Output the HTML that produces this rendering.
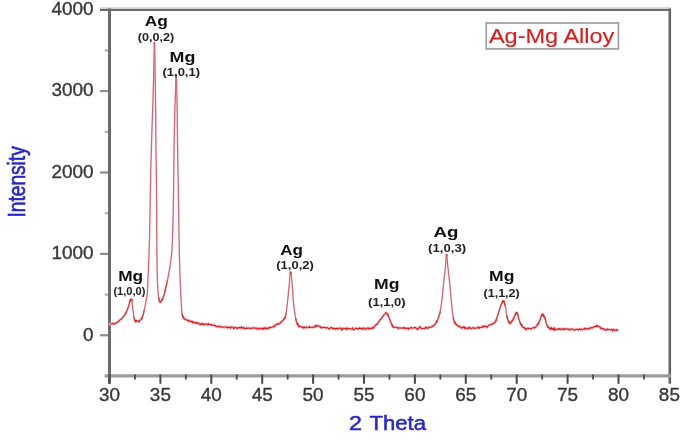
<!DOCTYPE html>
<html><head><meta charset="utf-8"><style>
html,body{margin:0;padding:0;background:#fff;}
body{width:685px;height:443px;overflow:hidden;}
svg{display:block;filter:blur(0.55px);}
text{font-family:"Liberation Sans",sans-serif;}
.tl{font-size:17.6px;fill:#383838;stroke:#383838;stroke-width:0.35px;}
.pn{font-size:13.8px;font-weight:bold;fill:#111;}
.hk{font-size:10.3px;font-weight:bold;fill:#222;}
.lg{font-size:20.2px;fill:#d42020;stroke:#d42020;stroke-width:0.15px;}
.ax{font-size:20.6px;fill:#2828c8;stroke:#2828c8;stroke-width:0.55px;}
.ay{font-size:23px;fill:#2828c8;stroke:#2828c8;stroke-width:0.65px;}
</style></head><body>
<svg width="685" height="443" viewBox="0 0 685 443">
<defs><filter id="fc" x="-5%" y="-5%" width="110%" height="110%"><feGaussianBlur stdDeviation="0.55"/></filter></defs>
<line x1="100" y1="7.6" x2="671" y2="7.6" stroke="#dcdcdc" stroke-width="1.4"/>
<line x1="100" y1="9.8" x2="671" y2="9.8" stroke="#6b6b6b" stroke-width="2.2"/>
<line x1="669.8" y1="8.4" x2="669.8" y2="383.8" stroke="#666" stroke-width="2.6"/>
<line x1="104.6" y1="375.9" x2="671" y2="375.9" stroke="#9c9c9c" stroke-width="3.4"/>
<line x1="109.5" y1="8.4" x2="109.5" y2="383.8" stroke="#6b6b6b" stroke-width="3"/>
<line x1="100.1" y1="335.30" x2="108" y2="335.30" stroke="#8c8c8c" stroke-width="2.2"/>
<line x1="104.7" y1="294.60" x2="108" y2="294.60" stroke="#a8a8a8" stroke-width="2"/>
<line x1="100.1" y1="253.90" x2="108" y2="253.90" stroke="#8c8c8c" stroke-width="2.2"/>
<line x1="104.7" y1="213.20" x2="108" y2="213.20" stroke="#a8a8a8" stroke-width="2"/>
<line x1="100.1" y1="172.50" x2="108" y2="172.50" stroke="#8c8c8c" stroke-width="2.2"/>
<line x1="104.7" y1="131.80" x2="108" y2="131.80" stroke="#a8a8a8" stroke-width="2"/>
<line x1="100.1" y1="91.10" x2="108" y2="91.10" stroke="#8c8c8c" stroke-width="2.2"/>
<line x1="104.7" y1="50.40" x2="108" y2="50.40" stroke="#a8a8a8" stroke-width="2"/>
<line x1="109.50" y1="374.5" x2="109.50" y2="383.8" stroke="#4a4a4a" stroke-width="2"/>
<line x1="134.95" y1="374.5" x2="134.95" y2="379.6" stroke="#4a4a4a" stroke-width="1.8"/>
<line x1="160.40" y1="374.5" x2="160.40" y2="383.8" stroke="#4a4a4a" stroke-width="2"/>
<line x1="185.85" y1="374.5" x2="185.85" y2="379.6" stroke="#4a4a4a" stroke-width="1.8"/>
<line x1="211.30" y1="374.5" x2="211.30" y2="383.8" stroke="#4a4a4a" stroke-width="2"/>
<line x1="236.75" y1="374.5" x2="236.75" y2="379.6" stroke="#4a4a4a" stroke-width="1.8"/>
<line x1="262.20" y1="374.5" x2="262.20" y2="383.8" stroke="#4a4a4a" stroke-width="2"/>
<line x1="287.65" y1="374.5" x2="287.65" y2="379.6" stroke="#4a4a4a" stroke-width="1.8"/>
<line x1="313.10" y1="374.5" x2="313.10" y2="383.8" stroke="#4a4a4a" stroke-width="2"/>
<line x1="338.55" y1="374.5" x2="338.55" y2="379.6" stroke="#4a4a4a" stroke-width="1.8"/>
<line x1="364.00" y1="374.5" x2="364.00" y2="383.8" stroke="#4a4a4a" stroke-width="2"/>
<line x1="389.45" y1="374.5" x2="389.45" y2="379.6" stroke="#4a4a4a" stroke-width="1.8"/>
<line x1="414.90" y1="374.5" x2="414.90" y2="383.8" stroke="#4a4a4a" stroke-width="2"/>
<line x1="440.35" y1="374.5" x2="440.35" y2="379.6" stroke="#4a4a4a" stroke-width="1.8"/>
<line x1="465.80" y1="374.5" x2="465.80" y2="383.8" stroke="#4a4a4a" stroke-width="2"/>
<line x1="491.25" y1="374.5" x2="491.25" y2="379.6" stroke="#4a4a4a" stroke-width="1.8"/>
<line x1="516.70" y1="374.5" x2="516.70" y2="383.8" stroke="#4a4a4a" stroke-width="2"/>
<line x1="542.15" y1="374.5" x2="542.15" y2="379.6" stroke="#4a4a4a" stroke-width="1.8"/>
<line x1="567.60" y1="374.5" x2="567.60" y2="383.8" stroke="#4a4a4a" stroke-width="2"/>
<line x1="593.05" y1="374.5" x2="593.05" y2="379.6" stroke="#4a4a4a" stroke-width="1.8"/>
<line x1="618.50" y1="374.5" x2="618.50" y2="383.8" stroke="#4a4a4a" stroke-width="2"/>
<line x1="643.95" y1="374.5" x2="643.95" y2="379.6" stroke="#4a4a4a" stroke-width="1.8"/>
<text x="93.6" y="14.90" text-anchor="end" class="tl" textLength="42.08" lengthAdjust="spacingAndGlyphs">4000</text>
<text x="93.6" y="96.30" text-anchor="end" class="tl" textLength="42.08" lengthAdjust="spacingAndGlyphs">3000</text>
<text x="93.6" y="177.70" text-anchor="end" class="tl" textLength="42.08" lengthAdjust="spacingAndGlyphs">2000</text>
<text x="93.6" y="259.10" text-anchor="end" class="tl" textLength="42.08" lengthAdjust="spacingAndGlyphs">1000</text>
<text x="93.6" y="340.50" text-anchor="end" class="tl" textLength="10.52" lengthAdjust="spacingAndGlyphs">0</text>
<text x="109.50" y="400.5" text-anchor="middle" class="tl" textLength="21.04" lengthAdjust="spacingAndGlyphs">30</text>
<text x="160.40" y="400.5" text-anchor="middle" class="tl" textLength="21.04" lengthAdjust="spacingAndGlyphs">35</text>
<text x="211.30" y="400.5" text-anchor="middle" class="tl" textLength="21.04" lengthAdjust="spacingAndGlyphs">40</text>
<text x="262.20" y="400.5" text-anchor="middle" class="tl" textLength="21.04" lengthAdjust="spacingAndGlyphs">45</text>
<text x="313.10" y="400.5" text-anchor="middle" class="tl" textLength="21.04" lengthAdjust="spacingAndGlyphs">50</text>
<text x="364.00" y="400.5" text-anchor="middle" class="tl" textLength="21.04" lengthAdjust="spacingAndGlyphs">55</text>
<text x="414.90" y="400.5" text-anchor="middle" class="tl" textLength="21.04" lengthAdjust="spacingAndGlyphs">60</text>
<text x="465.80" y="400.5" text-anchor="middle" class="tl" textLength="21.04" lengthAdjust="spacingAndGlyphs">65</text>
<text x="516.70" y="400.5" text-anchor="middle" class="tl" textLength="21.04" lengthAdjust="spacingAndGlyphs">70</text>
<text x="567.60" y="400.5" text-anchor="middle" class="tl" textLength="21.04" lengthAdjust="spacingAndGlyphs">75</text>
<text x="618.50" y="400.5" text-anchor="middle" class="tl" textLength="21.04" lengthAdjust="spacingAndGlyphs">80</text>
<text x="669.40" y="400.5" text-anchor="middle" class="tl" textLength="21.04" lengthAdjust="spacingAndGlyphs">85</text>
<g filter="url(#fc)">
<path d="M110.00,324.10 110.61,324.24 111.22,323.93 111.82,323.59 112.42,323.77 113.01,323.45 113.59,323.91 114.17,324.40 114.74,323.34 115.31,323.06 115.87,323.30 116.41,322.97 116.94,322.58 117.46,321.85 117.96,321.92 118.46,321.85 118.94,320.76 119.42,320.70 119.88,319.91 120.33,319.72 120.77,319.24 121.20,319.19 121.62,318.60 122.03,318.40 122.44,317.93 122.83,317.44 123.21,316.85 123.57,316.49 123.92,316.03 124.27,315.54 124.61,315.04 124.93,314.54 125.25,314.02 125.56,313.50 125.86,312.97 126.14,312.44" fill="none" stroke="#f0c8cc" stroke-width="2.8" stroke-linejoin="round" stroke-linecap="round"/><path d="M130.28,300.48 130.54,300.00 130.97,299.50 131.40,299.20 131.58,299.36 131.73,299.77 131.84,300.37" fill="none" stroke="#f0c8cc" stroke-width="2.8" stroke-linejoin="round" stroke-linecap="round"/><path d="M135.10,320.83 135.44,320.89 135.82,321.71 136.26,320.81 136.83,320.61 137.48,321.31 138.13,320.94 138.71,321.27 139.23,321.82 139.75,320.40 140.24,320.09 140.70,319.84 141.10,319.40 141.43,318.83 141.71,318.36 141.97,317.92" fill="none" stroke="#f0c8cc" stroke-width="2.8" stroke-linejoin="round" stroke-linecap="round"/><path d="M154.38,43.06 154.40,43.00 154.42,43.03 154.43,43.16" fill="none" stroke="#f0c8cc" stroke-width="2.8" stroke-linejoin="round" stroke-linecap="round"/><path d="M159.80,301.52 160.01,301.83 160.22,301.99 160.44,301.97 160.70,301.78 160.99,301.46 161.31,301.02 161.64,300.48 161.98,299.87 162.32,299.21" fill="none" stroke="#f0c8cc" stroke-width="2.8" stroke-linejoin="round" stroke-linecap="round"/><path d="M176.18,75.53 176.21,75.50 176.23,75.56 176.25,75.71" fill="none" stroke="#f0c8cc" stroke-width="2.8" stroke-linejoin="round" stroke-linecap="round"/><path d="M182.97,316.65 183.28,317.30 183.61,317.71 183.98,318.07 184.36,318.94 184.75,319.06 185.14,319.46 185.59,319.43 186.11,319.67 186.68,319.92 187.28,320.39 187.89,320.86 188.49,320.01 189.06,321.38 189.63,320.75 190.21,320.94 190.79,321.85 191.38,321.65 191.96,321.09 192.55,322.85 193.14,321.66 193.73,322.33 194.31,322.43 194.90,323.16 195.48,322.38 196.07,323.23 196.66,322.51 197.24,323.55 197.83,322.77 198.42,323.09 199.00,324.32 199.59,323.67 200.18,323.68 200.77,324.84 201.36,324.00 201.95,323.50 202.55,324.34 203.14,323.46 203.74,324.66 204.34,324.75 204.94,323.92 205.54,323.94 206.14,324.38 206.74,324.35 207.33,323.91 207.93,324.74 208.53,323.50 209.12,324.38 209.71,324.48 210.30,324.64 210.89,325.05 211.48,324.42 212.06,325.45 212.65,325.21 213.23,325.13 213.82,324.92 214.41,325.14 214.99,326.02 215.58,325.48 216.17,326.09 216.77,326.66 217.36,326.72 217.95,327.05 218.55,326.19 219.15,325.86 219.74,326.97 220.34,326.67 220.94,327.12 221.54,326.62 222.14,327.26 222.74,327.14 223.34,327.12 223.93,327.06 224.53,327.06 225.13,327.02 225.73,327.07 226.33,327.50 226.92,326.80 227.52,327.97 228.12,327.10 228.72,327.69 229.32,327.20 229.92,327.17 230.52,328.35 231.11,327.22 231.71,326.78 232.31,327.11 232.91,327.35 233.51,328.62 234.11,327.68 234.71,328.08 235.31,327.15 235.90,327.86 236.50,328.05 237.10,328.64 237.70,327.42 238.30,328.10 238.90,327.97 239.50,327.33 240.10,327.86 240.70,327.76 241.30,326.75 241.90,328.24 242.50,328.23 243.10,327.76 243.70,327.34 244.30,328.76 244.90,328.18 245.50,328.57 246.10,328.79 246.70,327.84 247.30,328.52 247.90,328.01 248.50,328.12 249.10,328.12 249.70,328.17 250.30,328.74 250.90,328.25 251.50,328.12 252.10,328.06 252.70,328.37 253.30,327.75 253.90,327.95 254.50,328.17 255.10,327.92 255.70,328.14 256.30,327.89 256.91,329.20 257.51,328.86 258.11,328.42 258.72,328.17 259.32,329.30 259.92,328.36 260.52,328.16 261.13,328.35 261.73,328.35 262.33,328.91 262.93,328.19 263.53,329.25 264.13,327.76 264.73,328.55 265.32,327.70 265.92,329.11 266.51,328.03 267.10,328.17 267.69,328.66 268.29,328.80 268.89,327.56 269.49,327.84 270.09,327.20 270.69,327.79 271.28,327.51 271.86,327.20 272.43,326.85 272.98,326.78 273.51,326.42 274.02,326.69 274.50,326.71 274.97,324.98 275.45,325.27 275.93,324.77 276.44,324.85 276.98,323.95 277.56,324.14 278.15,323.54 278.72,324.17 279.26,323.66 279.76,323.26 280.24,323.13 280.71,322.51 281.16,321.62 281.60,321.95 282.02,321.39 282.43,320.83 282.84,320.68 283.26,320.25 283.68,319.31 284.07,318.92 284.43,318.74 284.74,318.17 284.99,317.50" fill="none" stroke="#f0c8cc" stroke-width="2.8" stroke-linejoin="round" stroke-linecap="round"/><path d="M290.47,272.56 290.54,272.44 290.61,272.40 290.68,272.46 290.75,272.61 290.83,272.85" fill="none" stroke="#f0c8cc" stroke-width="2.8" stroke-linejoin="round" stroke-linecap="round"/><path d="M297.53,323.55 297.83,324.73 298.15,324.66 298.54,325.92 299.03,326.91 299.59,325.93 300.17,326.45 300.74,326.49 301.30,326.94 301.88,327.24 302.47,327.70 303.07,326.72 303.67,328.08 304.27,326.90 304.87,327.54 305.47,327.98 306.06,327.74 306.66,326.90 307.26,327.00 307.86,327.09 308.46,327.26 309.07,327.81 309.67,326.55 310.27,327.38 310.87,327.41 311.46,327.33 312.06,327.23 312.65,327.66 313.24,327.02 313.83,327.04 314.42,326.74 315.01,327.18 315.60,325.24 316.18,326.70 316.77,325.88 317.35,325.88 317.92,325.65 318.49,325.42 319.06,326.35 319.62,326.47 320.19,327.26 320.76,326.58 321.33,328.15 321.91,327.72 322.49,327.54 323.08,327.37 323.67,327.40 324.26,327.29 324.85,327.64 325.44,327.98 326.03,327.94 326.63,327.38 327.23,328.00 327.82,327.74 328.42,328.31 329.02,329.21 329.62,328.64 330.23,328.21 330.83,327.59 331.43,327.73 332.03,327.63 332.64,328.87 333.24,328.16 333.85,328.60 334.45,328.28 335.06,328.66 335.66,329.33 336.26,328.31 336.87,328.49 337.47,328.27 338.07,329.12 338.67,328.18 339.28,328.13 339.88,328.01 340.48,328.00 341.07,328.94 341.67,329.98 342.27,328.20 342.87,329.18 343.47,328.83 344.07,328.15 344.67,328.56 345.27,328.58 345.87,328.35 346.47,329.67 347.07,327.75 347.68,328.89 348.28,328.87 348.88,328.41 349.48,328.77 350.08,329.14 350.68,328.78 351.28,328.91 351.88,329.05 352.48,327.68 353.08,329.44 353.68,329.84 354.28,329.19 354.88,329.21 355.48,328.00 356.08,328.64 356.68,328.29 357.28,328.41 357.88,329.18 358.48,328.30 359.08,328.63 359.68,327.75 360.28,328.62 360.88,328.74 361.50,328.34 362.11,328.32 362.74,329.61 363.36,328.04 363.99,328.10 364.62,328.19 365.24,329.16 365.87,329.58 366.49,328.65 367.11,328.09 367.72,328.18 368.33,328.88 368.93,327.84 369.52,328.95 370.10,328.87 370.67,328.13 371.23,328.34 371.78,328.32 372.31,328.63 372.82,327.27 373.32,328.12 373.81,327.14 374.28,326.62 374.75,326.49 375.20,325.91 375.63,325.17 376.06,324.49 376.47,324.30 376.87,324.65 377.26,324.33 377.63,323.44 378.00,323.13 378.37,322.13 378.75,321.79 379.12,321.42 379.48,320.60 379.85,320.17 380.21,319.93 380.57,319.38 380.93,318.80 381.29,318.52 381.65,317.97 382.00,317.59 382.36,317.03 382.73,316.54 383.10,316.08 383.47,315.61 383.84,315.14 384.22,314.67 384.61,314.22 385.02,313.76 385.44,313.21 385.87,312.78 386.30,312.75 386.75,313.16 387.17,313.71 387.50,314.20 387.78,314.72 388.04,315.27" fill="none" stroke="#f0c8cc" stroke-width="2.8" stroke-linejoin="round" stroke-linecap="round"/><path d="M392.08,325.39 392.39,325.51 392.74,326.60 393.11,327.38 393.53,327.27 394.00,327.08 394.54,327.29 395.12,327.41 395.74,327.29 396.39,327.34 397.04,327.23 397.69,328.33 398.32,327.77 398.93,328.28 399.53,327.71 400.13,327.90 400.73,327.80 401.33,328.14 401.93,328.34 402.53,328.06 403.13,327.62 403.73,327.58 404.33,328.82 404.93,327.86 405.53,327.87 406.13,328.76 406.73,328.58 407.33,328.31 407.93,327.86 408.53,329.25 409.13,328.28 409.73,328.37 410.33,328.02 410.93,327.41 411.53,327.46 412.13,328.34 412.73,328.34 413.33,328.03 413.93,327.57 414.53,327.45 415.13,328.01 415.73,327.45 416.33,328.63 416.93,328.77 417.53,329.61 418.13,328.64 418.73,327.90 419.33,327.76 419.93,326.47 420.53,327.90 421.13,328.10 421.73,328.65 422.34,328.45 422.94,328.41 423.54,328.19 424.15,328.37 424.75,328.72 425.35,327.42 425.95,327.67 426.55,327.14 427.14,328.57 427.74,328.35 428.33,328.00 428.91,326.96 429.50,327.55 430.09,327.22 430.67,327.18 431.23,326.83 431.75,326.91 432.27,326.23 432.78,326.43 433.29,325.82 433.78,325.22 434.25,324.88 434.70,324.33 435.13,324.32 435.52,323.51 435.87,323.23 436.19,322.57 436.49,321.81 436.77,321.85 437.04,320.92" fill="none" stroke="#f0c8cc" stroke-width="2.8" stroke-linejoin="round" stroke-linecap="round"/><path d="M446.51,255.14 446.57,255.02 446.63,255.01 446.69,255.12 446.75,255.35" fill="none" stroke="#f0c8cc" stroke-width="2.8" stroke-linejoin="round" stroke-linecap="round"/><path d="M454.76,322.28 455.01,323.07 455.32,323.52 455.69,323.85 456.11,324.58 456.57,324.34 457.04,325.25 457.52,325.79 458.01,326.05 458.53,326.71 459.08,326.01 459.64,326.11 460.21,327.13 460.78,327.39 461.35,328.30 461.93,327.62 462.51,326.95 463.09,327.85 463.68,327.09 464.28,326.82 464.88,328.91 465.48,327.82 466.09,328.06 466.69,328.02 467.30,328.68 467.91,327.95 468.52,328.44 469.13,327.34 469.74,327.18 470.34,328.60 470.95,328.63 471.55,328.15 472.15,328.01 472.75,327.97 473.35,327.53 473.95,328.61 474.55,328.14 475.15,328.02 475.74,327.91 476.34,328.19 476.94,327.87 477.54,327.93 478.14,326.91 478.74,327.68 479.33,328.44 479.93,327.03 480.52,327.16 481.12,327.59 481.71,327.54 482.30,327.28 482.89,326.07 483.48,326.99 484.07,326.05 484.66,326.10 485.25,326.64 485.83,326.10 486.42,326.51 487.01,327.53 487.61,326.25 488.21,326.10 488.80,325.18 489.39,325.16 489.97,324.80 490.53,324.88 491.06,324.43 491.60,324.40 492.15,324.31 492.69,323.65 493.22,323.14 493.73,322.80 494.20,323.09 494.64,322.52 495.02,322.40 495.34,321.92 495.62,321.11 495.88,320.82 496.12,319.99" fill="none" stroke="#f0c8cc" stroke-width="2.8" stroke-linejoin="round" stroke-linecap="round"/><path d="M502.29,302.45 502.58,301.93 502.92,301.33 503.29,300.84 503.62,300.95 503.94,301.54 504.20,302.19" fill="none" stroke="#f0c8cc" stroke-width="2.8" stroke-linejoin="round" stroke-linecap="round"/><path d="M508.56,321.37 508.86,322.20 509.17,322.46 509.49,322.43 509.82,323.01 510.16,323.82 510.54,322.44 510.96,322.74 511.40,322.27 511.84,321.67 512.26,320.50 512.66,320.47 513.01,319.56 513.31,319.01 513.59,318.50 513.84,318.02" fill="none" stroke="#f0c8cc" stroke-width="2.8" stroke-linejoin="round" stroke-linecap="round"/><path d="M515.55,314.10 515.83,313.57 516.17,313.05 516.58,312.54 516.95,312.68 517.27,313.30 517.51,313.88" fill="none" stroke="#f0c8cc" stroke-width="2.8" stroke-linejoin="round" stroke-linecap="round"/><path d="M521.12,324.09 521.43,324.92 521.78,325.58 522.14,326.37 522.53,327.11 522.94,327.31 523.37,327.43 523.81,328.04 524.29,327.67 524.81,328.26 525.38,328.11 525.98,329.87 526.60,329.07 527.23,328.34 527.87,328.33 528.50,328.66 529.11,328.08 529.71,328.52 530.31,328.47 530.93,329.19 531.54,328.43 532.14,328.12 532.73,327.70 533.29,327.61 533.82,327.96 534.33,327.67 534.84,327.94 535.33,326.86 535.81,327.08 536.26,326.34 536.70,325.78 537.10,324.68 537.46,324.46 537.79,324.60 538.10,324.26 538.40,323.44 538.68,323.03" fill="none" stroke="#f0c8cc" stroke-width="2.8" stroke-linejoin="round" stroke-linecap="round"/><path d="M541.62,315.55 541.92,314.98 542.30,314.40 542.67,314.21 543.00,314.61 543.32,315.26 543.64,315.82" fill="none" stroke="#f0c8cc" stroke-width="2.8" stroke-linejoin="round" stroke-linecap="round"/><path d="M543.32,315.26 543.64,315.82 543.97,316.29 544.29,316.88 544.58,317.26 544.82,317.93" fill="none" stroke="#f0c8cc" stroke-width="2.8" stroke-linejoin="round" stroke-linecap="round"/><path d="M547.47,325.90 547.81,326.55 548.19,327.19 548.59,327.44 549.01,327.79 549.45,328.73 549.91,327.85 550.38,328.45 550.91,329.60 551.48,327.55 552.09,328.61 552.72,329.34 553.36,328.21 554.00,330.37 554.63,327.80 555.23,329.82 555.83,329.90 556.43,329.59 557.03,329.03 557.63,329.33 558.23,328.72 558.83,329.58 559.43,328.63 560.03,329.06 560.63,329.70 561.23,328.66 561.83,329.04 562.43,329.31 563.03,328.57 563.63,329.83 564.23,329.42 564.83,328.50 565.43,329.24 566.03,328.88 566.63,328.95 567.23,329.32 567.83,328.93 568.43,329.77 569.03,328.94 569.63,329.78 570.23,329.27 570.83,329.72 571.43,329.03 572.03,329.05 572.63,328.72 573.23,329.59 573.83,329.77 574.44,330.36 575.04,329.94 575.65,329.42 576.25,329.18 576.86,329.48 577.47,329.26 578.08,330.00 578.69,329.73 579.30,328.83 579.91,328.89 580.51,329.91 581.12,329.36 581.73,329.08 582.33,329.77 582.94,328.96 583.54,328.99 584.14,328.88 584.73,328.11 585.33,329.50 585.92,328.43 586.50,328.73 587.09,328.61 587.67,329.31 588.24,328.88 588.81,328.87 589.37,327.93 589.92,328.48 590.47,327.61 591.01,328.11 591.56,327.83 592.10,327.36 592.66,328.05 593.22,327.14 593.79,326.98 594.38,326.56 594.97,326.20 595.57,326.58 596.15,326.50 596.73,325.21 597.29,326.33 597.83,326.11 598.35,326.52 598.86,326.65 599.36,326.38 599.86,326.80 600.37,328.36 600.87,328.08 601.37,327.84 601.87,328.93 602.37,329.02 602.88,328.63 603.40,328.54 603.94,328.92 604.49,329.89 605.04,329.76 605.59,329.69 606.15,329.99 606.71,330.17 607.27,328.85 607.85,329.77 608.42,329.53 609.00,329.35 609.59,329.71 610.18,329.94 610.77,329.89 611.37,329.31 611.98,329.80 612.59,331.06 613.21,329.54 613.83,329.23 614.46,330.22 615.09,330.39 615.74,330.32 616.39,329.54 617.04,330.60 617.70,329.71" fill="none" stroke="#f0c8cc" stroke-width="2.8" stroke-linejoin="round" stroke-linecap="round"/>
<path d="M110.00,324.10 110.61,324.24 111.22,323.93 111.82,323.59 112.42,323.77 113.01,323.45 113.59,323.91 114.17,324.40 114.74,323.34 115.31,323.06 115.87,323.30 116.41,322.97 116.94,322.58 117.46,321.85 117.96,321.92 118.46,321.85 118.94,320.76 119.42,320.70 119.88,319.91 120.33,319.72 120.77,319.24 121.20,319.19 121.62,318.60 122.03,318.40 122.44,317.93 122.83,317.44 123.21,316.85 123.57,316.49 123.92,316.03 124.27,315.54 124.61,315.04 124.93,314.54 125.25,314.02 125.56,313.50 125.86,312.97 126.14,312.44" fill="none" stroke="#d41c24" stroke-width="1.05" stroke-linejoin="round" stroke-linecap="round"/>
<path d="M125.56,313.50 125.86,312.97 126.14,312.44 126.40,311.91 126.65,311.37 126.88,310.82 127.11,310.27 127.32,309.71 127.53,309.15 127.73,308.58 127.92,308.01 128.12,307.44 128.31,306.86 128.50,306.29 128.69,305.72 128.88,305.15 129.06,304.56 129.22,303.96 129.37,303.35 129.52,302.74 129.68,302.14 129.86,301.56 130.05,301.00 130.28,300.48 130.54,300.00 130.97,299.50" fill="none" stroke="#d83838" stroke-width="1.5" stroke-linejoin="round" stroke-linecap="round"/>
<path d="M130.28,300.48 130.54,300.00 130.97,299.50 131.40,299.20 131.58,299.36 131.73,299.77 131.84,300.37" fill="none" stroke="#d41c24" stroke-width="1.05" stroke-linejoin="round" stroke-linecap="round"/>
<path d="M131.58,299.36 131.73,299.77 131.84,300.37 131.94,301.09" fill="none" stroke="#d83838" stroke-width="1.5" stroke-linejoin="round" stroke-linecap="round"/>
<path d="M131.73,299.77 131.84,300.37 131.94,301.09 132.02,301.87 132.10,302.64 132.18,303.33 132.26,303.93 132.35,304.52 132.42,305.12 132.50,305.72 132.57,306.31 132.63,306.91 132.70,307.50 132.76,308.10 132.83,308.70 132.89,309.30 132.96,309.89 133.03,310.49 133.10,311.08 133.17,311.68 133.25,312.27 133.34,312.87 133.42,313.47 133.50,314.07 133.58,314.68 133.67,315.28 133.76,315.88 133.86,316.49 133.96,317.09 134.08,317.66 134.22,318.26 134.37,318.76" fill="none" stroke="#d86472" stroke-width="1.35" stroke-linejoin="round" stroke-linecap="round"/>
<path d="M134.08,317.66 134.22,318.26 134.37,318.76 134.55,319.47 134.80,320.06 135.10,320.83 135.44,320.89 135.82,321.71" fill="none" stroke="#d83838" stroke-width="1.5" stroke-linejoin="round" stroke-linecap="round"/>
<path d="M135.10,320.83 135.44,320.89 135.82,321.71 136.26,320.81 136.83,320.61 137.48,321.31 138.13,320.94 138.71,321.27 139.23,321.82 139.75,320.40 140.24,320.09 140.70,319.84 141.10,319.40 141.43,318.83 141.71,318.36 141.97,317.92" fill="none" stroke="#d41c24" stroke-width="1.05" stroke-linejoin="round" stroke-linecap="round"/>
<path d="M141.43,318.83 141.71,318.36 141.97,317.92 142.22,317.36 142.44,316.76 142.65,316.21 142.85,315.62 143.03,315.02 143.21,314.42 143.37,313.82 143.53,313.23 143.69,312.64 143.84,312.07 143.97,311.49 144.10,310.90 144.23,310.32" fill="none" stroke="#d83838" stroke-width="1.5" stroke-linejoin="round" stroke-linecap="round"/>
<path d="M143.97,311.49 144.10,310.90 144.23,310.32 144.35,309.73 144.46,309.14 144.57,308.54 144.68,307.95 144.79,307.36 144.91,306.77 145.02,306.18 145.14,305.59 145.26,305.00 145.37,304.42 145.49,303.83 145.61,303.24 145.72,302.65 145.83,302.06 145.95,301.47 146.06,300.88 146.17,300.29 146.27,299.70 146.38,299.11 146.49,298.52 146.60,297.93 146.72,297.34 146.83,296.75 146.95,296.16 147.05,295.57 147.14,294.97 147.22,294.38 147.28,293.79 147.33,293.19 147.37,292.59 147.41,292.00 147.45,291.40 147.48,290.80 147.51,290.20 147.54,289.61 147.57,289.01 147.59,288.41 147.62,287.81 147.64,287.21 147.66,286.61 147.68,286.01 147.70,285.40 147.72,284.80 147.74,284.20 147.76,283.60 147.78,283.00 147.81,282.40 147.83,281.80 147.85,281.20 147.87,280.60 147.90,280.00 147.93,279.40 147.95,278.80 147.98,278.20 148.01,277.60 148.04,277.00 148.06,276.40 148.09,275.80 148.12,275.20 148.15,274.61 148.18,274.01 148.20,273.41 148.23,272.81 148.26,272.21 148.29,271.61 148.32,271.01 148.35,270.41 148.38,269.81 148.41,269.21 148.44,268.61 148.46,268.01 148.49,267.41 148.52,266.81 148.55,266.21 148.58,265.61 148.61,265.02 148.64,264.42 148.66,263.82 148.69,263.22 148.72,262.62 148.75,262.02 148.77,261.42 148.80,260.82 148.83,260.22 148.85,259.62 148.88,259.02 148.90,258.42 148.93,257.82 148.95,257.22 148.97,256.62 149.00,256.02 149.02,255.42 149.04,254.82 149.06,254.23 149.09,253.63 149.11,253.03 149.13,252.43 149.15,251.83 149.16,251.23 149.18,250.63 149.20,250.03 149.22,249.43 149.23,248.83 149.25,248.23 149.27,247.63 149.28,247.03 149.30,246.43 149.31,245.83 149.33,245.23 149.34,244.63 149.36,244.03 149.37,243.43 149.39,242.83 149.40,242.23 149.42,241.63 149.43,241.03 149.44,240.43 149.46,239.83 149.47,239.23 149.48,238.63 149.50,238.03 149.51,237.43 149.52,236.83 149.53,236.23 149.55,235.63 149.56,235.03 149.57,234.43 149.58,233.83 149.60,233.23 149.61,232.63 149.62,232.03 149.63,231.43 149.64,230.83 149.65,230.24 149.67,229.64 149.68,229.04 149.69,228.44 149.70,227.84 149.71,227.24 149.72,226.64 149.73,226.04 149.74,225.44 149.75,224.84 149.77,224.24 149.78,223.64 149.79,223.04 149.80,222.44 149.81,221.84 149.82,221.24 149.83,220.64 149.84,220.04 149.85,219.44 149.86,218.84 149.87,218.24 149.88,217.64 149.89,217.04 149.90,216.44 149.91,215.84 149.92,215.24 149.93,214.64 149.94,214.04 149.95,213.44 149.96,212.84 149.97,212.24 149.98,211.64 149.99,211.04 150.01,210.44 150.02,209.84 150.03,209.24 150.04,208.64 150.05,208.04 150.06,207.44 150.07,206.84 150.08,206.24 150.09,205.64 150.10,205.04 150.11,204.44 150.13,203.84 150.14,203.24 150.15,202.64 150.16,202.04 150.17,201.44 150.18,200.84 150.20,200.24 150.21,199.64 150.22,199.04 150.23,198.44 150.24,197.84 150.25,197.24 150.27,196.64 150.28,196.04 150.29,195.44 150.30,194.84 150.31,194.24 150.32,193.64 150.33,193.04 150.35,192.44 150.36,191.84 150.37,191.24 150.38,190.64 150.39,190.04 150.40,189.44 150.41,188.84 150.43,188.24 150.44,187.64 150.45,187.04 150.46,186.44 150.47,185.84 150.48,185.24 150.49,184.64 150.51,184.04 150.52,183.44 150.53,182.84 150.54,182.24 150.55,181.64 150.56,181.04 150.58,180.44 150.59,179.84 150.60,179.24 150.61,178.64 150.62,178.04 150.64,177.44 150.65,176.84 150.66,176.24 150.67,175.64 150.69,175.04 150.70,174.44 150.71,173.84 150.73,173.24 150.74,172.64 150.75,172.04 150.77,171.44 150.78,170.84 150.79,170.24 150.81,169.64 150.82,169.04 150.84,168.44 150.85,167.84 150.87,167.25 150.88,166.65 150.90,166.05 150.91,165.45 150.93,164.85 150.94,164.25 150.96,163.65 150.98,163.05 150.99,162.45 151.01,161.85 151.02,161.25 151.04,160.65 151.06,160.05 151.07,159.45 151.09,158.85 151.11,158.25 151.13,157.65 151.14,157.05 151.16,156.45 151.18,155.85 151.20,155.25 151.21,154.65 151.23,154.05 151.25,153.45 151.27,152.85 151.28,152.25 151.30,151.65 151.32,151.05 151.34,150.45 151.35,149.85 151.37,149.25 151.39,148.65 151.41,148.05 151.43,147.45 151.44,146.85 151.46,146.25 151.48,145.65 151.50,145.05 151.52,144.45 151.53,143.85 151.55,143.25 151.57,142.66 151.59,142.06 151.61,141.46 151.63,140.86 151.64,140.26 151.66,139.66 151.68,139.06 151.70,138.46 151.72,137.86 151.74,137.26 151.76,136.66 151.78,136.06 151.79,135.46 151.81,134.86 151.83,134.26 151.85,133.66 151.87,133.06 151.89,132.46 151.91,131.86 151.93,131.26 151.95,130.66 151.97,130.06 151.99,129.46 152.01,128.86 152.03,128.26 152.05,127.66 152.07,127.06 152.09,126.46 152.11,125.86 152.12,125.26 152.14,124.66 152.16,124.06 152.18,123.46 152.20,122.87 152.22,122.27 152.24,121.67 152.26,121.07 152.28,120.47 152.30,119.87 152.32,119.27 152.35,118.67 152.37,118.07 152.39,117.47 152.41,116.87 152.43,116.27 152.45,115.67 152.47,115.07 152.49,114.47 152.52,113.87 152.54,113.27 152.56,112.67 152.58,112.07 152.60,111.47 152.63,110.87 152.65,110.27 152.67,109.67 152.69,109.07 152.71,108.47 152.73,107.87 152.76,107.27 152.78,106.68 152.80,106.08 152.82,105.48 152.84,104.88 152.86,104.28 152.88,103.68 152.90,103.08 152.92,102.48 152.94,101.88 152.96,101.28 152.98,100.68 153.00,100.08 153.02,99.48 153.03,98.88 153.05,98.28 153.07,97.68 153.09,97.08 153.11,96.48 153.12,95.88 153.14,95.28 153.16,94.68 153.18,94.08 153.19,93.48 153.21,92.88 153.23,92.28 153.25,91.68 153.26,91.08 153.28,90.48 153.30,89.88 153.31,89.28 153.33,88.68 153.35,88.08 153.36,87.48 153.38,86.88 153.39,86.28 153.41,85.68 153.43,85.09 153.44,84.49 153.46,83.89 153.47,83.29 153.49,82.69 153.50,82.09 153.52,81.49 153.53,80.89 153.55,80.29 153.56,79.69 153.57,79.09 153.59,78.49 153.60,77.89 153.62,77.29 153.63,76.69 153.64,76.09 153.66,75.49 153.67,74.89 153.68,74.29 153.69,73.69 153.70,73.09 153.72,72.49 153.73,71.89 153.74,71.29 153.75,70.69 153.76,70.09 153.77,69.49 153.78,68.89 153.79,68.29 153.81,67.69 153.82,67.09 153.83,66.49 153.84,65.89 153.85,65.29 153.86,64.69 153.87,64.09 153.88,63.49 153.90,62.89 153.91,62.29 153.92,61.69 153.93,61.09 153.95,60.49 153.96,59.89 153.97,59.29 153.98,58.69 154.00,58.09 154.01,57.47 154.03,56.82 154.04,56.12 154.05,55.39 154.07,54.64 154.08,53.86 154.10,53.08 154.11,52.28 154.13,51.48 154.15,50.68 154.16,49.90 154.18,49.12 154.19,48.37 154.21,47.64 154.23,46.95 154.24,46.29 154.26,45.67 154.28,45.11 154.29,44.60 154.31,44.15 154.33,43.76 154.34,43.45 154.36,43.21 154.38,43.06 154.40,43.00 154.42,43.03" fill="none" stroke="#d86472" stroke-width="1.35" stroke-linejoin="round" stroke-linecap="round"/>
<path d="M154.38,43.06 154.40,43.00 154.42,43.03 154.43,43.16" fill="none" stroke="#d41c24" stroke-width="1.05" stroke-linejoin="round" stroke-linecap="round"/>
<path d="M154.40,43.00 154.42,43.03 154.43,43.16 154.45,43.36" fill="none" stroke="#d83838" stroke-width="1.5" stroke-linejoin="round" stroke-linecap="round"/>
<path d="M154.42,43.03 154.43,43.16 154.45,43.36 154.47,43.65 154.50,44.01 154.52,44.44 154.54,44.94 154.56,45.48 154.58,46.08 154.61,46.73 154.63,47.41 154.65,48.13 154.67,48.87 154.70,49.64 154.72,50.43 154.74,51.22 154.76,52.02 154.78,52.82 154.80,53.61 154.82,54.39 154.84,55.15 154.85,55.88 154.87,56.59 154.88,57.26 154.90,57.89 154.91,58.49 154.92,59.09 154.93,59.69 154.95,60.29 154.96,60.89 154.97,61.49 154.98,62.09 154.99,62.69 155.00,63.29 155.01,63.89 155.02,64.49 155.03,65.09 155.03,65.69 155.04,66.29 155.05,66.89 155.06,67.49 155.07,68.09 155.08,68.69 155.08,69.29 155.09,69.89 155.10,70.49 155.11,71.09 155.12,71.69 155.12,72.29 155.13,72.89 155.14,73.49 155.15,74.09 155.15,74.69 155.16,75.29 155.17,75.89 155.18,76.49 155.19,77.09 155.20,77.69 155.20,78.29 155.21,78.89 155.22,79.49 155.23,80.09 155.24,80.69 155.25,81.29 155.25,81.89 155.26,82.49 155.27,83.09 155.28,83.69 155.29,84.29 155.30,84.89 155.30,85.49 155.31,86.09 155.32,86.69 155.33,87.29 155.34,87.89 155.34,88.49 155.35,89.09 155.36,89.69 155.37,90.29 155.38,90.89 155.38,91.49 155.39,92.09 155.40,92.69 155.41,93.29 155.42,93.89 155.42,94.49 155.43,95.09 155.44,95.69 155.45,96.29 155.46,96.89 155.46,97.49 155.47,98.09 155.48,98.69 155.49,99.29 155.50,99.89 155.51,100.49 155.52,101.09 155.53,101.69 155.54,102.29 155.54,102.89 155.55,103.49 155.57,104.09 155.58,104.69 155.59,105.29 155.60,105.89 155.61,106.49 155.62,107.09 155.63,107.69 155.64,108.29 155.65,108.89 155.66,109.49 155.67,110.09 155.68,110.69 155.69,111.29 155.70,111.89 155.71,112.49 155.72,113.09 155.73,113.69 155.74,114.29 155.75,114.89 155.75,115.49 155.76,116.09 155.77,116.69 155.78,117.29 155.78,117.89 155.79,118.49 155.79,119.09 155.80,119.69 155.80,120.29 155.81,120.89 155.81,121.49 155.81,122.09 155.82,122.69 155.82,123.29 155.82,123.89 155.82,124.49 155.83,125.09 155.83,125.69 155.83,126.29 155.83,126.89 155.84,127.49 155.84,128.09 155.84,128.69 155.84,129.29 155.84,129.89 155.84,130.49 155.85,131.09 155.85,131.69 155.85,132.29 155.85,132.89 155.85,133.49 155.85,134.09 155.86,134.69 155.86,135.29 155.86,135.89 155.86,136.49 155.86,137.09 155.87,137.69 155.87,138.29 155.87,138.89 155.87,139.49 155.87,140.09 155.88,140.69 155.88,141.29 155.88,141.89 155.89,142.49 155.89,143.09 155.89,143.69 155.90,144.29 155.90,144.89 155.90,145.49 155.91,146.09 155.91,146.69 155.92,147.29 155.93,147.89 155.93,148.49 155.94,149.09 155.95,149.69 155.96,150.29 155.96,150.89 155.97,151.49 155.98,152.09 155.99,152.69 156.00,153.29 156.01,153.89 156.02,154.49 156.04,155.09 156.05,155.69 156.06,156.29 156.07,156.89 156.08,157.49 156.09,158.09 156.10,158.69 156.12,159.29 156.13,159.89 156.14,160.49 156.15,161.09 156.16,161.69 156.17,162.29 156.19,162.89 156.20,163.49 156.21,164.09 156.22,164.69 156.23,165.29 156.24,165.89 156.25,166.49 156.26,167.09 156.27,167.69 156.28,168.29 156.29,168.89 156.29,169.49 156.30,170.09 156.31,170.69 156.32,171.29 156.32,171.88 156.33,172.48 156.34,173.08 156.34,173.68 156.35,174.28 156.36,174.88 156.37,175.48 156.37,176.08 156.38,176.68 156.39,177.28 156.39,177.88 156.40,178.48 156.41,179.08 156.41,179.68 156.42,180.28 156.43,180.88 156.43,181.48 156.44,182.08 156.44,182.68 156.45,183.28 156.46,183.88 156.46,184.48 156.47,185.08 156.47,185.68 156.48,186.28 156.49,186.88 156.49,187.48 156.50,188.08 156.50,188.68 156.51,189.28 156.51,189.88 156.52,190.48 156.53,191.08 156.53,191.68 156.54,192.28 156.54,192.88 156.55,193.48 156.55,194.08 156.56,194.68 156.56,195.28 156.57,195.88 156.57,196.48 156.58,197.08 156.58,197.68 156.59,198.28 156.59,198.88 156.60,199.48 156.60,200.08 156.61,200.68 156.61,201.28 156.61,201.88 156.62,202.48 156.62,203.08 156.63,203.68 156.63,204.28 156.63,204.88 156.64,205.48 156.64,206.08 156.65,206.68 156.65,207.28 156.65,207.88 156.66,208.48 156.66,209.08 156.66,209.68 156.67,210.28 156.67,210.88 156.67,211.48 156.68,212.08 156.68,212.68 156.68,213.28 156.69,213.88 156.69,214.48 156.69,215.08 156.70,215.68 156.70,216.28 156.70,216.88 156.70,217.48 156.71,218.08 156.71,218.68 156.71,219.28 156.72,219.88 156.72,220.48 156.72,221.08 156.72,221.68 156.73,222.28 156.73,222.88 156.73,223.48 156.74,224.08 156.74,224.68 156.74,225.28 156.74,225.88 156.75,226.48 156.75,227.08 156.75,227.68 156.76,228.28 156.76,228.88 156.76,229.48 156.77,230.08 156.77,230.68 156.77,231.28 156.77,231.88 156.78,232.48 156.78,233.08 156.78,233.68 156.79,234.28 156.79,234.88 156.79,235.48 156.80,236.08 156.80,236.68 156.81,237.28 156.81,237.88 156.81,238.48 156.82,239.08 156.82,239.68 156.82,240.28 156.83,240.88 156.83,241.48 156.84,242.08 156.84,242.68 156.84,243.28 156.85,243.88 156.85,244.48 156.86,245.08 156.86,245.68 156.87,246.28 156.87,246.88 156.88,247.48 156.88,248.08 156.89,248.68 156.89,249.28 156.90,249.88 156.90,250.48 156.91,251.08 156.92,251.68 156.92,252.28 156.93,252.88 156.93,253.48 156.94,254.08 156.95,254.68 156.95,255.28 156.96,255.88 156.97,256.48 156.97,257.08 156.98,257.68 156.99,258.28 156.99,258.88 157.00,259.48 157.01,260.08 157.02,260.68 157.03,261.28 157.03,261.88 157.04,262.48 157.05,263.08 157.06,263.68 157.07,264.28 157.08,264.88 157.09,265.48 157.10,266.08 157.11,266.68 157.12,267.28 157.13,267.88 157.14,268.48 157.15,269.08 157.16,269.68 157.17,270.28 157.18,270.88 157.20,271.48 157.21,272.08 157.22,272.68 157.23,273.28 157.25,273.88 157.26,274.48 157.27,275.08 157.29,275.68 157.30,276.28 157.32,276.88 157.33,277.48 157.35,278.08 157.36,278.68 157.38,279.28 157.40,279.88 157.41,280.48 157.43,281.08 157.45,281.68 157.47,282.28 157.49,282.88 157.51,283.49 157.54,284.09 157.56,284.69 157.59,285.30 157.62,285.90 157.65,286.50 157.68,287.10 157.71,287.71 157.75,288.31 157.78,288.91 157.82,289.51 157.87,290.11 157.91,290.71 157.96,291.30 158.00,291.90 158.05,292.49 158.11,293.09 158.16,293.68 158.22,294.27 158.28,294.85 158.36,295.47 158.45,296.15 158.56,296.88 158.70,297.64 158.85,298.41 159.02,299.16 159.20,299.87" fill="none" stroke="#d86472" stroke-width="1.35" stroke-linejoin="round" stroke-linecap="round"/>
<path d="M158.85,298.41 159.02,299.16 159.20,299.87 159.39,300.51 159.59,301.07 159.80,301.52 160.01,301.83 160.22,301.99" fill="none" stroke="#d83838" stroke-width="1.5" stroke-linejoin="round" stroke-linecap="round"/>
<path d="M159.80,301.52 160.01,301.83 160.22,301.99 160.44,301.97 160.70,301.78 160.99,301.46 161.31,301.02 161.64,300.48 161.98,299.87 162.32,299.21" fill="none" stroke="#d41c24" stroke-width="1.05" stroke-linejoin="round" stroke-linecap="round"/>
<path d="M161.64,300.48 161.98,299.87 162.32,299.21 162.65,298.52 162.97,297.83 163.26,297.15 163.51,296.51 163.72,295.93 163.91,295.37 164.08,294.81 164.23,294.23 164.38,293.65 164.52,293.06 164.65,292.47 164.78,291.88 164.91,291.28" fill="none" stroke="#d83838" stroke-width="1.5" stroke-linejoin="round" stroke-linecap="round"/>
<path d="M164.65,292.47 164.78,291.88 164.91,291.28 165.04,290.69 165.17,290.11" fill="none" stroke="#d86472" stroke-width="1.35" stroke-linejoin="round" stroke-linecap="round"/>
<path d="M164.91,291.28 165.04,290.69 165.17,290.11 165.31,289.52 165.45,288.94 165.59,288.36 165.73,287.77 165.87,287.19 166.01,286.60 166.15,286.02 166.29,285.43 166.43,284.85 166.56,284.26 166.70,283.68 166.84,283.09 166.97,282.51 167.10,281.92 167.23,281.34 167.36,280.75 167.49,280.16" fill="none" stroke="#d83838" stroke-width="1.5" stroke-linejoin="round" stroke-linecap="round"/>
<path d="M167.23,281.34 167.36,280.75 167.49,280.16 167.62,279.58 167.74,278.99 167.86,278.40 167.98,277.82 168.09,277.23 168.21,276.64 168.31,276.05 168.42,275.46 168.52,274.87 168.62,274.28 168.73,273.69 168.83,273.10 168.93,272.51 169.03,271.92 169.13,271.33 169.24,270.73 169.34,270.14 169.44,269.55 169.54,268.96 169.64,268.36 169.74,267.77 169.84,267.18 169.93,266.58 170.03,265.99 170.13,265.39 170.22,264.80 170.31,264.21 170.40,263.61 170.49,263.02 170.58,262.42 170.67,261.83 170.76,261.23 170.84,260.63 170.92,260.04 171.00,259.44 171.08,258.85 171.15,258.25 171.22,257.66 171.29,257.06 171.36,256.46 171.43,255.87 171.49,255.27 171.55,254.67 171.60,254.08 171.66,253.48 171.71,252.88 171.75,252.29 171.80,251.69 171.84,251.09 171.87,250.50 171.91,249.90 171.94,249.30 171.97,248.70 172.00,248.11 172.03,247.51 172.06,246.91 172.09,246.32 172.11,245.72 172.14,245.12 172.17,244.52 172.20,243.92 172.22,243.33 172.25,242.73 172.28,242.13 172.30,241.53 172.33,240.93 172.35,240.33 172.38,239.73 172.40,239.14 172.42,238.54 172.45,237.94 172.47,237.34 172.49,236.74 172.51,236.14 172.54,235.54 172.56,234.94 172.58,234.34 172.60,233.74 172.62,233.14 172.64,232.54 172.66,231.94 172.68,231.34 172.70,230.74 172.71,230.14 172.73,229.54 172.75,228.94 172.77,228.34 172.79,227.74 172.80,227.14 172.82,226.54 172.84,225.94 172.85,225.34 172.87,224.74 172.89,224.14 172.90,223.54 172.92,222.94 172.93,222.34 172.95,221.74 172.96,221.14 172.98,220.54 172.99,219.94 173.01,219.34 173.02,218.73 173.04,218.13 173.05,217.53 173.06,216.93 173.08,216.33 173.09,215.73 173.10,215.13 173.12,214.53 173.13,213.93 173.14,213.33 173.15,212.73 173.17,212.13 173.18,211.53 173.19,210.93 173.20,210.33 173.21,209.72 173.23,209.12 173.24,208.52 173.25,207.92 173.26,207.32 173.27,206.72 173.28,206.12 173.30,205.52 173.31,204.92 173.32,204.32 173.33,203.72 173.34,203.12 173.35,202.52 173.36,201.92 173.38,201.32 173.39,200.72 173.40,200.12 173.41,199.52 173.42,198.92 173.43,198.32 173.44,197.72 173.45,197.12 173.46,196.52 173.47,195.92 173.48,195.32 173.49,194.72 173.50,194.12 173.51,193.52 173.52,192.92 173.53,192.32 173.54,191.72 173.55,191.12 173.56,190.52 173.57,189.92 173.58,189.32 173.58,188.72 173.59,188.12 173.60,187.52 173.61,186.92 173.62,186.32 173.63,185.72 173.63,185.12 173.64,184.52 173.65,183.92 173.66,183.32 173.66,182.72 173.67,182.12 173.68,181.52 173.69,180.92 173.69,180.32 173.70,179.72 173.71,179.12 173.72,178.52 173.72,177.92 173.73,177.32 173.74,176.72 173.74,176.12 173.75,175.52 173.76,174.92 173.76,174.32 173.77,173.72 173.78,173.12 173.79,172.52 173.79,171.92 173.80,171.32 173.81,170.72 173.81,170.12 173.82,169.52 173.83,168.92 173.83,168.32 173.84,167.72 173.85,167.12 173.85,166.52 173.86,165.92 173.87,165.32 173.87,164.72 173.88,164.12 173.89,163.52 173.89,162.92 173.90,162.32 173.91,161.72 173.91,161.12 173.92,160.52 173.93,159.92 173.93,159.32 173.94,158.72 173.95,158.12 173.95,157.52 173.96,156.92 173.97,156.32 173.98,155.72 173.98,155.12 173.99,154.52 174.00,153.92 174.01,153.32 174.01,152.72 174.02,152.12 174.03,151.52 174.04,150.92 174.04,150.33 174.05,149.73 174.06,149.13 174.07,148.53 174.08,147.93 174.09,147.33 174.09,146.73 174.10,146.13 174.11,145.53 174.12,144.93 174.13,144.33 174.14,143.73 174.15,143.13 174.16,142.53 174.17,141.93 174.18,141.33 174.19,140.73 174.20,140.13 174.21,139.53 174.22,138.93 174.23,138.33 174.24,137.73 174.25,137.13 174.26,136.53 174.27,135.93 174.28,135.33 174.29,134.73 174.30,134.13 174.32,133.53 174.33,132.93 174.34,132.33 174.35,131.73 174.36,131.13 174.37,130.53 174.38,129.93 174.40,129.33 174.41,128.73 174.42,128.13 174.43,127.53 174.45,126.93 174.46,126.33 174.47,125.73 174.48,125.13 174.50,124.53 174.51,123.93 174.52,123.33 174.54,122.73 174.55,122.13 174.56,121.53 174.58,120.93 174.59,120.33 174.61,119.73 174.62,119.13 174.63,118.53 174.65,117.93 174.66,117.33 174.68,116.73 174.69,116.13 174.71,115.53 174.72,114.93 174.74,114.33 174.75,113.73 174.77,113.13 174.79,112.53 174.80,111.93 174.82,111.33 174.84,110.73 174.85,110.13 174.87,109.53 174.89,108.93 174.91,108.33 174.93,107.73 174.94,107.14 174.96,106.54 174.98,105.94 175.00,105.34 175.02,104.74 175.05,104.14 175.07,103.54 175.09,102.94 175.11,102.34 175.13,101.74 175.15,101.14 175.17,100.54 175.20,99.94 175.22,99.34 175.24,98.74 175.26,98.14 175.29,97.54 175.31,96.94 175.33,96.34 175.36,95.74 175.38,95.14 175.40,94.54 175.43,93.94 175.45,93.34 175.47,92.74 175.49,92.14 175.52,91.53 175.54,90.88 175.57,90.20 175.59,89.48 175.61,88.74 175.64,87.98 175.67,87.20 175.69,86.41 175.72,85.61 175.74,84.81 175.77,84.01 175.80,83.23 175.82,82.45 175.85,81.69 175.87,80.95 175.90,80.24 175.93,79.56 175.95,78.92 175.98,78.31 176.01,77.76 176.03,77.25 176.06,76.80 176.08,76.40 176.11,76.08 176.13,75.82 176.16,75.63 176.18,75.53 176.21,75.50" fill="none" stroke="#d86472" stroke-width="1.35" stroke-linejoin="round" stroke-linecap="round"/>
<path d="M176.16,75.63 176.18,75.53 176.21,75.50 176.23,75.56" fill="none" stroke="#d83838" stroke-width="1.5" stroke-linejoin="round" stroke-linecap="round"/>
<path d="M176.18,75.53 176.21,75.50 176.23,75.56 176.25,75.71" fill="none" stroke="#d41c24" stroke-width="1.05" stroke-linejoin="round" stroke-linecap="round"/>
<path d="M176.21,75.50 176.23,75.56 176.25,75.71 176.28,75.93" fill="none" stroke="#d83838" stroke-width="1.5" stroke-linejoin="round" stroke-linecap="round"/>
<path d="M176.23,75.56 176.25,75.71 176.28,75.93 176.30,76.22 176.32,76.58 176.35,77.00 176.37,77.48 176.40,78.01 176.42,78.59 176.44,79.22 176.47,79.88 176.49,80.57 176.51,81.30 176.54,82.05 176.56,82.81 176.58,83.60 176.60,84.39 176.63,85.19 176.65,85.99 176.67,86.78 176.69,87.57 176.71,88.34 176.73,89.09 176.74,89.82 176.76,90.53 176.78,91.20 176.80,91.83 176.81,92.43 176.83,93.03 176.84,93.63 176.86,94.23 176.87,94.83 176.89,95.43 176.90,96.03 176.91,96.63 176.93,97.23 176.94,97.83 176.95,98.43 176.97,99.03 176.98,99.63 176.99,100.23 177.01,100.83 177.02,101.43 177.03,102.03 177.04,102.63 177.05,103.23 177.07,103.83 177.08,104.43 177.09,105.03 177.10,105.63 177.11,106.23 177.12,106.83 177.13,107.43 177.14,108.03 177.15,108.63 177.16,109.23 177.17,109.83 177.18,110.43 177.19,111.03 177.19,111.63 177.20,112.23 177.21,112.83 177.22,113.43 177.23,114.03 177.24,114.63 177.24,115.22 177.25,115.82 177.26,116.42 177.26,117.02 177.27,117.62 177.28,118.22 177.28,118.82 177.29,119.42 177.30,120.02 177.30,120.62 177.31,121.22 177.32,121.82 177.32,122.42 177.33,123.02 177.33,123.62 177.34,124.22 177.34,124.82 177.35,125.42 177.36,126.02 177.36,126.62 177.37,127.22 177.37,127.82 177.38,128.42 177.38,129.02 177.39,129.62 177.39,130.22 177.40,130.82 177.41,131.42 177.41,132.02 177.42,132.62 177.42,133.22 177.43,133.82 177.44,134.42 177.44,135.02 177.45,135.62 177.46,136.22 177.46,136.82 177.47,137.42 177.48,138.02 177.48,138.62 177.49,139.22 177.50,139.82 177.51,140.42 177.51,141.02 177.52,141.62 177.53,142.22 177.54,142.82 177.55,143.42 177.55,144.02 177.56,144.62 177.57,145.22 177.58,145.82 177.59,146.42 177.60,147.02 177.60,147.62 177.61,148.22 177.62,148.82 177.63,149.42 177.64,150.02 177.65,150.62 177.66,151.22 177.67,151.82 177.68,152.42 177.69,153.02 177.70,153.62 177.71,154.22 177.71,154.82 177.72,155.42 177.73,156.02 177.74,156.62 177.75,157.22 177.76,157.82 177.77,158.42 177.78,159.02 177.79,159.62 177.80,160.22 177.81,160.82 177.82,161.42 177.83,162.02 177.84,162.62 177.85,163.22 177.86,163.82 177.88,164.42 177.89,165.02 177.90,165.62 177.91,166.22 177.92,166.82 177.93,167.42 177.94,168.02 177.95,168.62 177.96,169.22 177.97,169.82 177.98,170.42 177.99,171.02 178.00,171.62 178.01,172.22 178.02,172.82 178.03,173.42 178.04,174.02 178.06,174.62 178.07,175.22 178.08,175.82 178.09,176.42 178.10,177.02 178.11,177.62 178.12,178.22 178.13,178.82 178.14,179.42 178.15,180.02 178.16,180.62 178.17,181.22 178.18,181.82 178.20,182.42 178.21,183.02 178.22,183.62 178.23,184.22 178.24,184.82 178.25,185.42 178.26,186.02 178.27,186.62 178.28,187.22 178.29,187.82 178.30,188.42 178.31,189.02 178.32,189.62 178.33,190.22 178.34,190.82 178.35,191.42 178.37,192.02 178.38,192.62 178.39,193.22 178.40,193.82 178.41,194.42 178.42,195.02 178.43,195.62 178.44,196.22 178.45,196.82 178.46,197.42 178.47,198.02 178.48,198.62 178.49,199.22 178.50,199.82 178.51,200.42 178.52,201.02 178.53,201.62 178.54,202.22 178.55,202.82 178.55,203.41 178.56,204.01 178.57,204.61 178.58,205.21 178.59,205.81 178.60,206.41 178.61,207.01 178.62,207.61 178.63,208.21 178.64,208.81 178.65,209.41 178.65,210.01 178.66,210.61 178.67,211.21 178.68,211.81 178.69,212.41 178.70,213.01 178.71,213.61 178.72,214.21 178.72,214.81 178.73,215.41 178.74,216.01 178.75,216.61 178.76,217.21 178.77,217.81 178.78,218.41 178.78,219.01 178.79,219.61 178.80,220.21 178.81,220.81 178.82,221.41 178.83,222.01 178.84,222.61 178.84,223.21 178.85,223.81 178.86,224.41 178.87,225.01 178.88,225.61 178.89,226.21 178.90,226.81 178.91,227.41 178.92,228.01 178.92,228.61 178.93,229.21 178.94,229.81 178.95,230.41 178.96,231.01 178.97,231.61 178.98,232.21 178.99,232.81 179.00,233.41 179.01,234.01 179.02,234.61 179.03,235.21 179.04,235.81 179.05,236.41 179.06,237.01 179.07,237.61 179.08,238.21 179.09,238.81 179.10,239.41 179.11,240.01 179.12,240.61 179.13,241.21 179.14,241.81 179.15,242.41 179.16,243.01 179.17,243.61 179.18,244.21 179.20,244.81 179.21,245.41 179.22,246.01 179.23,246.61 179.24,247.21 179.25,247.81 179.27,248.41 179.28,249.01 179.29,249.61 179.30,250.21 179.32,250.81 179.33,251.41 179.34,252.01 179.36,252.61 179.37,253.21 179.38,253.81 179.40,254.41 179.41,255.01 179.43,255.61 179.44,256.21 179.46,256.81 179.47,257.41 179.49,258.01 179.50,258.61 179.52,259.21 179.54,259.81 179.55,260.41 179.57,261.01 179.59,261.61 179.60,262.21 179.62,262.81 179.64,263.40 179.65,264.00 179.67,264.60 179.69,265.20 179.71,265.80 179.73,266.40 179.74,267.00 179.76,267.60 179.78,268.20 179.80,268.80 179.82,269.40 179.84,270.00 179.86,270.60 179.88,271.20 179.89,271.80 179.91,272.40 179.93,273.00 179.95,273.60 179.97,274.20 179.99,274.80 180.01,275.40 180.03,276.00 180.05,276.60 180.08,277.20 180.10,277.80 180.12,278.40 180.14,279.00 180.16,279.60 180.19,280.20 180.21,280.80 180.23,281.39 180.26,281.99 180.28,282.59 180.31,283.19 180.33,283.79 180.36,284.39 180.38,284.99 180.41,285.59 180.43,286.19 180.46,286.79 180.48,287.39 180.51,287.99 180.54,288.59 180.56,289.19 180.59,289.79 180.62,290.39 180.64,290.99 180.67,291.59 180.70,292.19 180.73,292.78 180.75,293.38 180.78,293.98 180.81,294.58 180.84,295.18 180.87,295.78 180.90,296.38 180.93,296.98 180.96,297.58 181.00,298.18 181.03,298.78 181.06,299.38 181.10,299.97 181.13,300.58 181.17,301.18 181.20,301.79 181.23,302.39 181.26,303.01 181.29,303.62 181.32,304.23 181.35,304.84 181.39,305.46 181.42,306.07 181.45,306.68 181.49,307.29 181.53,307.90 181.57,308.51 181.61,309.11 181.66,309.71 181.71,310.31 181.76,310.90 181.82,311.49 181.89,312.07 181.95,312.65 182.03,313.22 182.11,313.78 182.19,314.34 182.30,314.90 182.48,315.49" fill="none" stroke="#d86472" stroke-width="1.35" stroke-linejoin="round" stroke-linecap="round"/>
<path d="M182.19,314.34 182.30,314.90 182.48,315.49 182.70,316.08 182.97,316.65 183.28,317.30 183.61,317.71" fill="none" stroke="#d83838" stroke-width="1.5" stroke-linejoin="round" stroke-linecap="round"/>
<path d="M182.97,316.65 183.28,317.30 183.61,317.71 183.98,318.07 184.36,318.94 184.75,319.06 185.14,319.46 185.59,319.43 186.11,319.67 186.68,319.92 187.28,320.39 187.89,320.86 188.49,320.01 189.06,321.38 189.63,320.75 190.21,320.94 190.79,321.85 191.38,321.65 191.96,321.09 192.55,322.85 193.14,321.66 193.73,322.33 194.31,322.43 194.90,323.16 195.48,322.38 196.07,323.23 196.66,322.51 197.24,323.55 197.83,322.77 198.42,323.09 199.00,324.32 199.59,323.67 200.18,323.68 200.77,324.84 201.36,324.00 201.95,323.50 202.55,324.34 203.14,323.46 203.74,324.66 204.34,324.75 204.94,323.92 205.54,323.94 206.14,324.38 206.74,324.35 207.33,323.91 207.93,324.74 208.53,323.50 209.12,324.38 209.71,324.48 210.30,324.64 210.89,325.05 211.48,324.42 212.06,325.45 212.65,325.21 213.23,325.13 213.82,324.92 214.41,325.14 214.99,326.02 215.58,325.48 216.17,326.09 216.77,326.66 217.36,326.72 217.95,327.05 218.55,326.19 219.15,325.86 219.74,326.97 220.34,326.67 220.94,327.12 221.54,326.62 222.14,327.26 222.74,327.14 223.34,327.12 223.93,327.06 224.53,327.06 225.13,327.02 225.73,327.07 226.33,327.50 226.92,326.80 227.52,327.97 228.12,327.10 228.72,327.69 229.32,327.20 229.92,327.17 230.52,328.35 231.11,327.22 231.71,326.78 232.31,327.11 232.91,327.35 233.51,328.62 234.11,327.68 234.71,328.08 235.31,327.15 235.90,327.86 236.50,328.05 237.10,328.64 237.70,327.42 238.30,328.10 238.90,327.97 239.50,327.33 240.10,327.86 240.70,327.76 241.30,326.75 241.90,328.24 242.50,328.23 243.10,327.76 243.70,327.34 244.30,328.76 244.90,328.18 245.50,328.57 246.10,328.79 246.70,327.84 247.30,328.52 247.90,328.01 248.50,328.12 249.10,328.12 249.70,328.17 250.30,328.74 250.90,328.25 251.50,328.12 252.10,328.06 252.70,328.37 253.30,327.75 253.90,327.95 254.50,328.17 255.10,327.92 255.70,328.14 256.30,327.89 256.91,329.20 257.51,328.86 258.11,328.42 258.72,328.17 259.32,329.30 259.92,328.36 260.52,328.16 261.13,328.35 261.73,328.35 262.33,328.91 262.93,328.19 263.53,329.25 264.13,327.76 264.73,328.55 265.32,327.70 265.92,329.11 266.51,328.03 267.10,328.17 267.69,328.66 268.29,328.80 268.89,327.56 269.49,327.84 270.09,327.20 270.69,327.79 271.28,327.51 271.86,327.20 272.43,326.85 272.98,326.78 273.51,326.42 274.02,326.69 274.50,326.71 274.97,324.98 275.45,325.27 275.93,324.77 276.44,324.85 276.98,323.95 277.56,324.14 278.15,323.54 278.72,324.17 279.26,323.66 279.76,323.26 280.24,323.13 280.71,322.51 281.16,321.62 281.60,321.95 282.02,321.39 282.43,320.83 282.84,320.68 283.26,320.25 283.68,319.31 284.07,318.92 284.43,318.74 284.74,318.17 284.99,317.50" fill="none" stroke="#d41c24" stroke-width="1.05" stroke-linejoin="round" stroke-linecap="round"/>
<path d="M284.43,318.74 284.74,318.17 284.99,317.50 285.18,316.96 285.36,316.43 285.52,315.85 285.66,315.25 285.78,314.65 285.90,314.05" fill="none" stroke="#d83838" stroke-width="1.5" stroke-linejoin="round" stroke-linecap="round"/>
<path d="M285.66,315.25 285.78,314.65 285.90,314.05 286.01,313.46 286.11,312.87 286.21,312.28 286.30,311.69 286.39,311.10 286.48,310.51 286.56,309.91 286.64,309.32 286.71,308.72 286.79,308.13 286.86,307.53 286.93,306.93 287.00,306.34 287.06,305.74 287.13,305.14 287.20,304.54 287.26,303.94 287.33,303.35 287.39,302.75 287.46,302.15 287.53,301.56 287.59,300.96 287.66,300.37 287.72,299.77 287.79,299.17 287.85,298.58 287.91,297.98 287.97,297.38 288.03,296.78 288.09,296.19 288.15,295.59 288.21,294.99 288.27,294.40 288.32,293.80 288.38,293.20 288.44,292.60 288.50,292.01 288.56,291.41 288.61,290.81 288.67,290.22 288.73,289.62 288.79,289.02 288.85,288.42 288.91,287.83 288.98,287.23 289.04,286.62 289.10,285.98 289.16,285.29 289.23,284.57 289.29,283.83 289.35,283.06 289.42,282.28 289.48,281.48 289.55,280.69 289.61,279.90 289.68,279.11 289.74,278.35 289.81,277.60 289.87,276.88 289.94,276.19 290.00,275.54 290.07,274.93 290.13,274.37 290.20,273.88 290.27,273.44 290.34,273.07 290.40,272.78 290.47,272.56" fill="none" stroke="#d86472" stroke-width="1.35" stroke-linejoin="round" stroke-linecap="round"/>
<path d="M290.34,273.07 290.40,272.78 290.47,272.56 290.54,272.44 290.61,272.40" fill="none" stroke="#d83838" stroke-width="1.5" stroke-linejoin="round" stroke-linecap="round"/>
<path d="M290.47,272.56 290.54,272.44 290.61,272.40 290.68,272.46 290.75,272.61 290.83,272.85" fill="none" stroke="#d41c24" stroke-width="1.05" stroke-linejoin="round" stroke-linecap="round"/>
<path d="M290.68,272.46 290.75,272.61 290.83,272.85 290.90,273.16 290.98,273.55" fill="none" stroke="#d83838" stroke-width="1.5" stroke-linejoin="round" stroke-linecap="round"/>
<path d="M290.83,272.85 290.90,273.16 290.98,273.55 291.06,274.00 291.14,274.51 291.22,275.08 291.30,275.69 291.38,276.35 291.46,277.05 291.54,277.78 291.62,278.53 291.70,279.30 291.78,280.09 291.85,280.88 291.93,281.67 292.00,282.46 292.07,283.24 292.14,284.00 292.20,284.74 292.27,285.45 292.32,286.13 292.38,286.77 292.43,287.37 292.48,287.97 292.53,288.56 292.57,289.16 292.61,289.76 292.65,290.36 292.69,290.96 292.73,291.56 292.77,292.16 292.80,292.76 292.84,293.36 292.87,293.95 292.90,294.55 292.94,295.15 292.97,295.75 293.01,296.35 293.05,296.95 293.08,297.55 293.12,298.15 293.16,298.75 293.20,299.35 293.25,299.94 293.29,300.54 293.34,301.14 293.39,301.74 293.45,302.33 293.51,302.93 293.57,303.53 293.63,304.12 293.70,304.72 293.76,305.32 293.84,305.91 293.91,306.51 293.98,307.10 294.06,307.70 294.14,308.30 294.22,308.89 294.30,309.49 294.39,310.08 294.47,310.67 294.56,311.27 294.65,311.86 294.74,312.45 294.83,313.05 294.92,313.64 295.01,314.23 295.10,314.83 295.20,315.43 295.29,316.02 295.39,316.62 295.49,317.22 295.60,317.83 295.71,318.41 295.84,319.04 295.96,319.53 296.10,320.17" fill="none" stroke="#d86472" stroke-width="1.35" stroke-linejoin="round" stroke-linecap="round"/>
<path d="M295.84,319.04 295.96,319.53 296.10,320.17 296.25,320.56 296.41,321.39 296.59,321.91 296.79,322.43 297.01,323.31 297.26,323.83 297.53,323.55 297.83,324.73 298.15,324.66" fill="none" stroke="#d83838" stroke-width="1.5" stroke-linejoin="round" stroke-linecap="round"/>
<path d="M297.53,323.55 297.83,324.73 298.15,324.66 298.54,325.92 299.03,326.91 299.59,325.93 300.17,326.45 300.74,326.49 301.30,326.94 301.88,327.24 302.47,327.70 303.07,326.72 303.67,328.08 304.27,326.90 304.87,327.54 305.47,327.98 306.06,327.74 306.66,326.90 307.26,327.00 307.86,327.09 308.46,327.26 309.07,327.81 309.67,326.55 310.27,327.38 310.87,327.41 311.46,327.33 312.06,327.23 312.65,327.66 313.24,327.02 313.83,327.04 314.42,326.74 315.01,327.18 315.60,325.24 316.18,326.70 316.77,325.88 317.35,325.88 317.92,325.65 318.49,325.42 319.06,326.35 319.62,326.47 320.19,327.26 320.76,326.58 321.33,328.15 321.91,327.72 322.49,327.54 323.08,327.37 323.67,327.40 324.26,327.29 324.85,327.64 325.44,327.98 326.03,327.94 326.63,327.38 327.23,328.00 327.82,327.74 328.42,328.31 329.02,329.21 329.62,328.64 330.23,328.21 330.83,327.59 331.43,327.73 332.03,327.63 332.64,328.87 333.24,328.16 333.85,328.60 334.45,328.28 335.06,328.66 335.66,329.33 336.26,328.31 336.87,328.49 337.47,328.27 338.07,329.12 338.67,328.18 339.28,328.13 339.88,328.01 340.48,328.00 341.07,328.94 341.67,329.98 342.27,328.20 342.87,329.18 343.47,328.83 344.07,328.15 344.67,328.56 345.27,328.58 345.87,328.35 346.47,329.67 347.07,327.75 347.68,328.89 348.28,328.87 348.88,328.41 349.48,328.77 350.08,329.14 350.68,328.78 351.28,328.91 351.88,329.05 352.48,327.68 353.08,329.44 353.68,329.84 354.28,329.19 354.88,329.21 355.48,328.00 356.08,328.64 356.68,328.29 357.28,328.41 357.88,329.18 358.48,328.30 359.08,328.63 359.68,327.75 360.28,328.62 360.88,328.74 361.50,328.34 362.11,328.32 362.74,329.61 363.36,328.04 363.99,328.10 364.62,328.19 365.24,329.16 365.87,329.58 366.49,328.65 367.11,328.09 367.72,328.18 368.33,328.88 368.93,327.84 369.52,328.95 370.10,328.87 370.67,328.13 371.23,328.34 371.78,328.32 372.31,328.63 372.82,327.27 373.32,328.12 373.81,327.14 374.28,326.62 374.75,326.49 375.20,325.91 375.63,325.17 376.06,324.49 376.47,324.30 376.87,324.65 377.26,324.33 377.63,323.44 378.00,323.13 378.37,322.13 378.75,321.79 379.12,321.42 379.48,320.60 379.85,320.17 380.21,319.93 380.57,319.38 380.93,318.80 381.29,318.52 381.65,317.97 382.00,317.59 382.36,317.03 382.73,316.54 383.10,316.08 383.47,315.61 383.84,315.14 384.22,314.67 384.61,314.22 385.02,313.76 385.44,313.21 385.87,312.78 386.30,312.75 386.75,313.16 387.17,313.71 387.50,314.20 387.78,314.72 388.04,315.27" fill="none" stroke="#d41c24" stroke-width="1.05" stroke-linejoin="round" stroke-linecap="round"/>
<path d="M387.50,314.20 387.78,314.72 388.04,315.27 388.28,315.84 388.51,316.38 388.75,316.99 388.97,317.55 389.19,318.03 389.40,318.69 389.62,319.12 389.83,319.87 390.04,320.28 390.25,320.76 390.45,321.39 390.65,321.89 390.85,322.62 391.06,323.18 391.29,323.71 391.53,324.13 391.79,323.98 392.08,325.39 392.39,325.51 392.74,326.60" fill="none" stroke="#d83838" stroke-width="1.5" stroke-linejoin="round" stroke-linecap="round"/>
<path d="M392.08,325.39 392.39,325.51 392.74,326.60 393.11,327.38 393.53,327.27 394.00,327.08 394.54,327.29 395.12,327.41 395.74,327.29 396.39,327.34 397.04,327.23 397.69,328.33 398.32,327.77 398.93,328.28 399.53,327.71 400.13,327.90 400.73,327.80 401.33,328.14 401.93,328.34 402.53,328.06 403.13,327.62 403.73,327.58 404.33,328.82 404.93,327.86 405.53,327.87 406.13,328.76 406.73,328.58 407.33,328.31 407.93,327.86 408.53,329.25 409.13,328.28 409.73,328.37 410.33,328.02 410.93,327.41 411.53,327.46 412.13,328.34 412.73,328.34 413.33,328.03 413.93,327.57 414.53,327.45 415.13,328.01 415.73,327.45 416.33,328.63 416.93,328.77 417.53,329.61 418.13,328.64 418.73,327.90 419.33,327.76 419.93,326.47 420.53,327.90 421.13,328.10 421.73,328.65 422.34,328.45 422.94,328.41 423.54,328.19 424.15,328.37 424.75,328.72 425.35,327.42 425.95,327.67 426.55,327.14 427.14,328.57 427.74,328.35 428.33,328.00 428.91,326.96 429.50,327.55 430.09,327.22 430.67,327.18 431.23,326.83 431.75,326.91 432.27,326.23 432.78,326.43 433.29,325.82 433.78,325.22 434.25,324.88 434.70,324.33 435.13,324.32 435.52,323.51 435.87,323.23 436.19,322.57 436.49,321.81 436.77,321.85 437.04,320.92" fill="none" stroke="#d41c24" stroke-width="1.05" stroke-linejoin="round" stroke-linecap="round"/>
<path d="M436.49,321.81 436.77,321.85 437.04,320.92 437.29,320.66 437.53,320.04 437.76,319.24 437.98,318.76 438.20,318.24 438.41,317.67 438.62,317.11 438.82,316.60 439.02,316.02 439.21,315.44 439.39,314.87 439.55,314.29 439.71,313.71 439.85,313.13 439.97,312.55 440.10,311.97" fill="none" stroke="#d83838" stroke-width="1.5" stroke-linejoin="round" stroke-linecap="round"/>
<path d="M439.85,313.13 439.97,312.55 440.10,311.97 440.21,311.38 440.32,310.80 440.43,310.21 440.54,309.62 440.64,309.03 440.74,308.44 440.83,307.84 440.92,307.25 441.01,306.66 441.10,306.06 441.19,305.47 441.27,304.87 441.35,304.27 441.43,303.68 441.51,303.08 441.58,302.48 441.66,301.88 441.73,301.29 441.80,300.69 441.88,300.09 441.95,299.49 442.02,298.90 442.09,298.30 442.16,297.71 442.23,297.11 442.30,296.51 442.37,295.92 442.44,295.32 442.50,294.73 442.57,294.13 442.63,293.53 442.69,292.94 442.75,292.34 442.81,291.74 442.87,291.15 442.93,290.55 442.98,289.95 443.04,289.35 443.10,288.76 443.15,288.16 443.21,287.56 443.27,286.96 443.32,286.37 443.38,285.77 443.44,285.17 443.50,284.57 443.56,283.98 443.62,283.38 443.68,282.78 443.74,282.19 443.80,281.59 443.87,280.99 443.93,280.40 444.00,279.80 444.06,279.20 444.13,278.61 444.20,278.01 444.27,277.41 444.34,276.82 444.40,276.22 444.47,275.63 444.54,275.03 444.61,274.43 444.68,273.84 444.75,273.24 444.82,272.65 444.89,272.05 444.96,271.45 445.03,270.86 445.09,270.26 445.16,269.67 445.23,269.07 445.29,268.47 445.36,267.88 445.42,267.28 445.48,266.68 445.54,266.07 445.60,265.41 445.66,264.70 445.72,263.95 445.78,263.18 445.83,262.39 445.89,261.60 445.95,260.80 446.00,260.02 446.06,259.26 446.11,258.54 446.17,257.85 446.22,257.22 446.28,256.64 446.34,256.14 446.39,255.71 446.45,255.38 446.51,255.14 446.57,255.02" fill="none" stroke="#d86472" stroke-width="1.35" stroke-linejoin="round" stroke-linecap="round"/>
<path d="M446.45,255.38 446.51,255.14 446.57,255.02 446.63,255.01" fill="none" stroke="#d83838" stroke-width="1.5" stroke-linejoin="round" stroke-linecap="round"/>
<path d="M446.51,255.14 446.57,255.02 446.63,255.01 446.69,255.12 446.75,255.35" fill="none" stroke="#d41c24" stroke-width="1.05" stroke-linejoin="round" stroke-linecap="round"/>
<path d="M446.63,255.01 446.69,255.12 446.75,255.35 446.81,255.67" fill="none" stroke="#d83838" stroke-width="1.5" stroke-linejoin="round" stroke-linecap="round"/>
<path d="M446.69,255.12 446.75,255.35 446.81,255.67 446.87,256.08 446.93,256.57 446.99,257.14 447.05,257.77 447.11,258.45 447.18,259.17 447.24,259.92 447.30,260.70 447.36,261.49 447.43,262.29 447.49,263.08 447.55,263.85 447.62,264.60 447.68,265.31 447.75,265.98 447.81,266.60 447.88,267.20 447.94,267.79 448.01,268.39 448.08,268.99 448.14,269.58 448.21,270.18 448.28,270.77 448.35,271.37 448.42,271.97 448.49,272.56 448.56,273.16 448.63,273.75 448.69,274.35 448.76,274.95 448.83,275.54 448.90,276.14 448.97,276.74 449.04,277.33 449.10,277.93 449.17,278.52 449.24,279.12 449.30,279.72 449.36,280.31 449.43,280.91 449.49,281.51 449.55,282.10 449.61,282.70 449.67,283.30 449.73,283.89 449.79,284.49 449.85,285.09 449.91,285.69 449.96,286.28 450.02,286.88 450.08,287.48 450.13,288.07 450.19,288.67 450.24,289.27 450.30,289.87 450.36,290.46 450.41,291.06 450.47,291.66 450.52,292.26 450.58,292.85 450.63,293.45 450.69,294.05 450.74,294.65 450.80,295.24 450.85,295.84 450.91,296.44 450.97,297.04 451.02,297.63 451.08,298.23 451.13,298.83 451.19,299.43 451.24,300.02 451.30,300.62 451.35,301.22 451.40,301.82 451.46,302.41 451.51,303.01 451.57,303.61 451.62,304.21 451.68,304.81 451.73,305.40 451.79,306.00 451.85,306.60 451.91,307.19 451.97,307.79 452.03,308.39 452.09,308.98 452.15,309.58 452.22,310.18 452.28,310.77 452.35,311.37 452.41,311.97 452.48,312.57 452.55,313.17 452.62,313.77 452.69,314.36 452.77,314.96 452.86,315.55 452.95,316.14 453.05,316.74 453.16,317.34 453.28,317.92 453.42,318.48 453.56,319.13" fill="none" stroke="#d86472" stroke-width="1.35" stroke-linejoin="round" stroke-linecap="round"/>
<path d="M453.28,317.92 453.42,318.48 453.56,319.13 453.73,319.71 453.90,320.39 454.09,320.71 454.30,321.47 454.52,321.96 454.76,322.28 455.01,323.07 455.32,323.52" fill="none" stroke="#d83838" stroke-width="1.5" stroke-linejoin="round" stroke-linecap="round"/>
<path d="M454.76,322.28 455.01,323.07 455.32,323.52 455.69,323.85 456.11,324.58 456.57,324.34 457.04,325.25 457.52,325.79 458.01,326.05 458.53,326.71 459.08,326.01 459.64,326.11 460.21,327.13 460.78,327.39 461.35,328.30 461.93,327.62 462.51,326.95 463.09,327.85 463.68,327.09 464.28,326.82 464.88,328.91 465.48,327.82 466.09,328.06 466.69,328.02 467.30,328.68 467.91,327.95 468.52,328.44 469.13,327.34 469.74,327.18 470.34,328.60 470.95,328.63 471.55,328.15 472.15,328.01 472.75,327.97 473.35,327.53 473.95,328.61 474.55,328.14 475.15,328.02 475.74,327.91 476.34,328.19 476.94,327.87 477.54,327.93 478.14,326.91 478.74,327.68 479.33,328.44 479.93,327.03 480.52,327.16 481.12,327.59 481.71,327.54 482.30,327.28 482.89,326.07 483.48,326.99 484.07,326.05 484.66,326.10 485.25,326.64 485.83,326.10 486.42,326.51 487.01,327.53 487.61,326.25 488.21,326.10 488.80,325.18 489.39,325.16 489.97,324.80 490.53,324.88 491.06,324.43 491.60,324.40 492.15,324.31 492.69,323.65 493.22,323.14 493.73,322.80 494.20,323.09 494.64,322.52 495.02,322.40 495.34,321.92 495.62,321.11 495.88,320.82 496.12,319.99" fill="none" stroke="#d41c24" stroke-width="1.05" stroke-linejoin="round" stroke-linecap="round"/>
<path d="M495.62,321.11 495.88,320.82 496.12,319.99 496.35,319.92 496.56,319.21 496.76,318.51 496.95,317.89 497.13,317.36 497.31,316.71 497.48,316.13 497.65,315.52 497.83,314.92 498.00,314.32 498.19,313.73 498.38,313.16 498.58,312.59 498.77,312.02 498.96,311.45 499.14,310.88 499.32,310.30 499.51,309.73 499.69,309.16 499.87,308.58 500.06,308.01 500.25,307.44 500.44,306.88 500.64,306.31 500.85,305.75 501.06,305.19 501.28,304.64 501.52,304.08 501.76,303.53 502.01,302.99 502.29,302.45 502.58,301.93 502.92,301.33" fill="none" stroke="#d83838" stroke-width="1.5" stroke-linejoin="round" stroke-linecap="round"/>
<path d="M502.29,302.45 502.58,301.93 502.92,301.33 503.29,300.84 503.62,300.95 503.94,301.54 504.20,302.19" fill="none" stroke="#d41c24" stroke-width="1.05" stroke-linejoin="round" stroke-linecap="round"/>
<path d="M503.62,300.95 503.94,301.54 504.20,302.19 504.40,302.74 504.58,303.31 504.75,303.89 504.90,304.47 505.04,305.06 505.18,305.65 505.30,306.24" fill="none" stroke="#d83838" stroke-width="1.5" stroke-linejoin="round" stroke-linecap="round"/>
<path d="M505.04,305.06 505.18,305.65 505.30,306.24 505.43,306.83 505.54,307.42 505.65,308.01 505.75,308.61 505.84,309.21 505.92,309.81 506.01,310.41 506.08,311.01 506.16,311.61 506.24,312.22 506.32,312.82 506.40,313.42 506.49,314.01 506.58,314.60 506.68,315.19 506.79,315.78 506.90,316.35 507.03,316.91 507.17,317.47" fill="none" stroke="#d86472" stroke-width="1.35" stroke-linejoin="round" stroke-linecap="round"/>
<path d="M506.90,316.35 507.03,316.91 507.17,317.47 507.33,318.07 507.53,318.66 507.75,319.34 508.00,320.15 508.27,320.87 508.56,321.37 508.86,322.20 509.17,322.46" fill="none" stroke="#d83838" stroke-width="1.5" stroke-linejoin="round" stroke-linecap="round"/>
<path d="M508.56,321.37 508.86,322.20 509.17,322.46 509.49,322.43 509.82,323.01 510.16,323.82 510.54,322.44 510.96,322.74 511.40,322.27 511.84,321.67 512.26,320.50 512.66,320.47 513.01,319.56 513.31,319.01 513.59,318.50 513.84,318.02" fill="none" stroke="#d41c24" stroke-width="1.05" stroke-linejoin="round" stroke-linecap="round"/>
<path d="M513.31,319.01 513.59,318.50 513.84,318.02 514.08,317.43 514.32,316.86 514.55,316.32 514.78,315.74 515.02,315.19 515.28,314.64 515.55,314.10 515.83,313.57 516.17,313.05" fill="none" stroke="#d83838" stroke-width="1.5" stroke-linejoin="round" stroke-linecap="round"/>
<path d="M515.55,314.10 515.83,313.57 516.17,313.05 516.58,312.54 516.95,312.68 517.27,313.30 517.51,313.88" fill="none" stroke="#d41c24" stroke-width="1.05" stroke-linejoin="round" stroke-linecap="round"/>
<path d="M516.95,312.68 517.27,313.30 517.51,313.88 517.70,314.44 517.86,315.01 518.00,315.60 518.14,316.19 518.28,316.80 518.43,317.35 518.60,317.91 518.78,318.58 518.95,319.18 519.12,319.78 519.30,320.19 519.49,320.85 519.68,321.58 519.88,321.88 520.10,322.41 520.32,323.26 520.57,323.97 520.83,323.89 521.12,324.09 521.43,324.92 521.78,325.58" fill="none" stroke="#d83838" stroke-width="1.5" stroke-linejoin="round" stroke-linecap="round"/>
<path d="M521.12,324.09 521.43,324.92 521.78,325.58 522.14,326.37 522.53,327.11 522.94,327.31 523.37,327.43 523.81,328.04 524.29,327.67 524.81,328.26 525.38,328.11 525.98,329.87 526.60,329.07 527.23,328.34 527.87,328.33 528.50,328.66 529.11,328.08 529.71,328.52 530.31,328.47 530.93,329.19 531.54,328.43 532.14,328.12 532.73,327.70 533.29,327.61 533.82,327.96 534.33,327.67 534.84,327.94 535.33,326.86 535.81,327.08 536.26,326.34 536.70,325.78 537.10,324.68 537.46,324.46 537.79,324.60 538.10,324.26 538.40,323.44 538.68,323.03" fill="none" stroke="#d41c24" stroke-width="1.05" stroke-linejoin="round" stroke-linecap="round"/>
<path d="M538.10,324.26 538.40,323.44 538.68,323.03 538.94,322.22 539.20,321.68 539.45,321.07 539.69,320.76 539.92,320.10 540.16,319.47 540.38,318.91 540.58,318.41 540.77,317.81 540.96,317.19 541.16,316.68 541.37,316.09 541.62,315.55 541.92,314.98 542.30,314.40" fill="none" stroke="#d83838" stroke-width="1.5" stroke-linejoin="round" stroke-linecap="round"/>
<path d="M541.62,315.55 541.92,314.98 542.30,314.40 542.67,314.21 543.00,314.61 543.32,315.26 543.64,315.82" fill="none" stroke="#d41c24" stroke-width="1.05" stroke-linejoin="round" stroke-linecap="round"/>
<path d="M543.00,314.61 543.32,315.26 543.64,315.82 543.97,316.29" fill="none" stroke="#d83838" stroke-width="1.5" stroke-linejoin="round" stroke-linecap="round"/>
<path d="M543.32,315.26 543.64,315.82 543.97,316.29 544.29,316.88 544.58,317.26 544.82,317.93" fill="none" stroke="#d41c24" stroke-width="1.05" stroke-linejoin="round" stroke-linecap="round"/>
<path d="M544.29,316.88 544.58,317.26 544.82,317.93 545.03,318.40 545.21,318.95 545.38,319.60 545.53,320.23 545.68,320.86 545.82,321.59 545.97,322.04 546.12,322.70 546.28,323.08 546.46,323.85 546.67,324.30 546.90,324.70 547.16,325.31 547.47,325.90 547.81,326.55 548.19,327.19" fill="none" stroke="#d83838" stroke-width="1.5" stroke-linejoin="round" stroke-linecap="round"/>
<path d="M547.47,325.90 547.81,326.55 548.19,327.19 548.59,327.44 549.01,327.79 549.45,328.73 549.91,327.85 550.38,328.45 550.91,329.60 551.48,327.55 552.09,328.61 552.72,329.34 553.36,328.21 554.00,330.37 554.63,327.80 555.23,329.82 555.83,329.90 556.43,329.59 557.03,329.03 557.63,329.33 558.23,328.72 558.83,329.58 559.43,328.63 560.03,329.06 560.63,329.70 561.23,328.66 561.83,329.04 562.43,329.31 563.03,328.57 563.63,329.83 564.23,329.42 564.83,328.50 565.43,329.24 566.03,328.88 566.63,328.95 567.23,329.32 567.83,328.93 568.43,329.77 569.03,328.94 569.63,329.78 570.23,329.27 570.83,329.72 571.43,329.03 572.03,329.05 572.63,328.72 573.23,329.59 573.83,329.77 574.44,330.36 575.04,329.94 575.65,329.42 576.25,329.18 576.86,329.48 577.47,329.26 578.08,330.00 578.69,329.73 579.30,328.83 579.91,328.89 580.51,329.91 581.12,329.36 581.73,329.08 582.33,329.77 582.94,328.96 583.54,328.99 584.14,328.88 584.73,328.11 585.33,329.50 585.92,328.43 586.50,328.73 587.09,328.61 587.67,329.31 588.24,328.88 588.81,328.87 589.37,327.93 589.92,328.48 590.47,327.61 591.01,328.11 591.56,327.83 592.10,327.36 592.66,328.05 593.22,327.14 593.79,326.98 594.38,326.56 594.97,326.20 595.57,326.58 596.15,326.50 596.73,325.21 597.29,326.33 597.83,326.11 598.35,326.52 598.86,326.65 599.36,326.38 599.86,326.80 600.37,328.36 600.87,328.08 601.37,327.84 601.87,328.93 602.37,329.02 602.88,328.63 603.40,328.54 603.94,328.92 604.49,329.89 605.04,329.76 605.59,329.69 606.15,329.99 606.71,330.17 607.27,328.85 607.85,329.77 608.42,329.53 609.00,329.35 609.59,329.71 610.18,329.94 610.77,329.89 611.37,329.31 611.98,329.80 612.59,331.06 613.21,329.54 613.83,329.23 614.46,330.22 615.09,330.39 615.74,330.32 616.39,329.54 617.04,330.60 617.70,329.71" fill="none" stroke="#d41c24" stroke-width="1.05" stroke-linejoin="round" stroke-linecap="round"/>
</g>
<text x="118.20" y="281.20" class="pn" textLength="24.90" lengthAdjust="spacingAndGlyphs">Mg</text>
<text x="113.40" y="295.20" class="hk" textLength="32.10" lengthAdjust="spacingAndGlyphs">(1,0,0)</text>
<text x="144.70" y="25.60" class="pn" textLength="23.10" lengthAdjust="spacingAndGlyphs">Ag</text>
<text x="137.70" y="40.60" class="hk" textLength="36.50" lengthAdjust="spacingAndGlyphs">(0,0,2)</text>
<text x="169.60" y="62.10" class="pn" textLength="25.80" lengthAdjust="spacingAndGlyphs">Mg</text>
<text x="162.50" y="75.60" class="hk" textLength="37.50" lengthAdjust="spacingAndGlyphs">(1,0,1)</text>
<text x="280.20" y="255.10" class="pn" textLength="22.70" lengthAdjust="spacingAndGlyphs">Ag</text>
<text x="276.30" y="268.60" class="hk" textLength="37.50" lengthAdjust="spacingAndGlyphs">(1,0,2)</text>
<text x="374.10" y="288.80" class="pn" textLength="25.40" lengthAdjust="spacingAndGlyphs">Mg</text>
<text x="368.10" y="305.70" class="hk" textLength="37.60" lengthAdjust="spacingAndGlyphs">(1,1,0)</text>
<text x="433.60" y="236.80" class="pn" textLength="24.90" lengthAdjust="spacingAndGlyphs">Ag</text>
<text x="428.10" y="251.70" class="hk" textLength="38.10" lengthAdjust="spacingAndGlyphs">(1,0,3)</text>
<text x="489.10" y="281.30" class="pn" textLength="25.40" lengthAdjust="spacingAndGlyphs">Mg</text>
<text x="483.60" y="296.70" class="hk" textLength="36.10" lengthAdjust="spacingAndGlyphs">(1,1,2)</text>
<rect x="486.2" y="23.0" width="132.2" height="25.9" fill="none" stroke="#a4a4a4" stroke-width="1.8"/>
<text x="488.9" y="42.6" class="lg" textLength="125.5" lengthAdjust="spacingAndGlyphs">Ag-Mg Alloy</text>
<text x="349.0" y="429.6" class="ax" textLength="12.9" lengthAdjust="spacingAndGlyphs">2</text>
<text x="369.6" y="429.6" class="ax" textLength="56.4" lengthAdjust="spacingAndGlyphs">Theta</text>
<text transform="translate(24.6,217.5) rotate(-90)" x="0" y="0" class="ay" textLength="71.2" lengthAdjust="spacingAndGlyphs">Intensity</text>
</svg>
</body></html>
